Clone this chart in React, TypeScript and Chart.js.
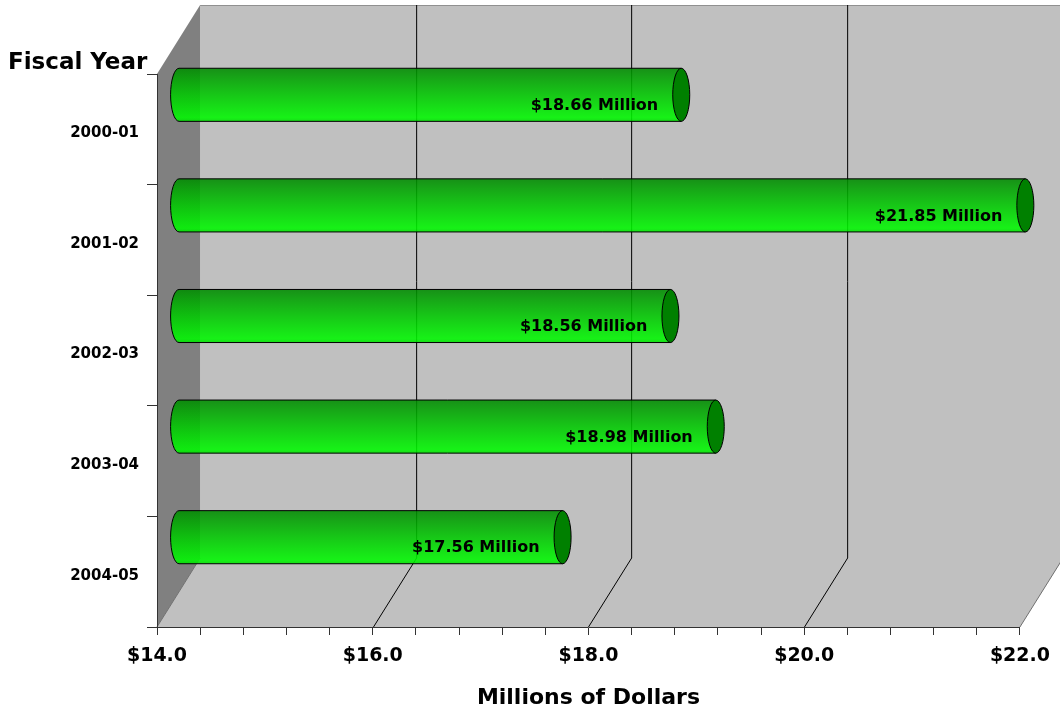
import React, { useEffect, useRef } from 'react';
import { Chart, registerables } from 'chart.js';

Chart.register(...registerables);

// ---- data ----
const fiscalYears = ['2000-01', '2001-02', '2002-03', '2003-04', '2004-05'];
const spendingMillions = [18.66, 21.85, 18.56, 18.98, 17.56];
const xTickValues = [14, 14.4, 14.8, 15.2, 15.6, 16, 16.4, 16.8, 17.2, 17.6, 18, 18.4, 18.8, 19.2, 19.6, 20, 20.4, 20.8, 21.2, 21.6, 22];
const xMajorTicks = [14, 16, 18, 20, 22];
const X_MIN = 14;
const X_MAX = 22;

// ---- style ----
const FONT = "'DejaVu Sans', 'Liberation Sans', sans-serif";
const DEPTH_UNITS = 0.4; // horizontal depth expressed in axis units
const DEPTH_DY = 69; // vertical depth in px
const CAP_RX = 8.5;

const threeDPlugin = {
  id: 'threeD',
  beforeDraw(chart: any) {
    const { ctx, chartArea: a, scales } = chart;
    const x = scales.x;
    const dx = x.getPixelForValue(X_MIN + DEPTH_UNITS) - x.getPixelForValue(X_MIN);
    const dy = DEPTH_DY;
    ctx.save();
    // back wall
    ctx.fillStyle = '#c0c0c0';
    ctx.fillRect(a.left + dx, a.top - dy, a.right - a.left, a.bottom - a.top);
    ctx.strokeStyle = '#909090';
    ctx.lineWidth = 1;
    ctx.beginPath();
    ctx.moveTo(a.left + dx, a.top - dy + 0.5);
    ctx.lineTo(a.right + dx, a.top - dy + 0.5);
    ctx.stroke();
    // floor
    ctx.fillStyle = '#c0c0c0';
    ctx.beginPath();
    ctx.moveTo(a.left, a.bottom);
    ctx.lineTo(a.right, a.bottom);
    ctx.lineTo(a.right + dx, a.bottom - dy);
    ctx.lineTo(a.left + dx, a.bottom - dy);
    ctx.closePath();
    ctx.fill();
    // left wall
    ctx.fillStyle = '#808080';
    ctx.beginPath();
    ctx.moveTo(a.left, a.top);
    ctx.lineTo(a.left + dx, a.top - dy);
    ctx.lineTo(a.left + dx, a.bottom - dy);
    ctx.lineTo(a.left, a.bottom);
    ctx.closePath();
    ctx.fill();
    // floor edges
    ctx.strokeStyle = '#707070';
    ctx.beginPath();
    ctx.moveTo(a.left, a.bottom);
    ctx.lineTo(a.left + dx, a.bottom - dy);
    ctx.moveTo(a.right, a.bottom);
    ctx.lineTo(a.right + dx, a.bottom - dy);
    ctx.stroke();
    // grid lines on back wall and floor
    ctx.strokeStyle = '#000000';
    ctx.beginPath();
    xMajorTicks.forEach((v) => {
      if (v === X_MIN || v === X_MAX) return;
      const px = Math.round(x.getPixelForValue(v)) + 0.5;
      ctx.moveTo(px + dx, a.top - dy);
      ctx.lineTo(px + dx, a.bottom - dy);
      ctx.moveTo(px, a.bottom);
      ctx.lineTo(px + dx, a.bottom - dy);
    });
    ctx.stroke();
    ctx.restore();
  },
  afterDatasetsDraw(chart: any) {
    const { ctx, scales, chartArea } = chart;
    const x = scales.x;
    const dx = x.getPixelForValue(X_MIN + DEPTH_UNITS) - x.getPixelForValue(X_MIN);
    const dy = DEPTH_DY;
    const meta = chart.getDatasetMeta(0);
    ctx.save();
    meta.data.forEach((bar: any, i: number) => {
      const p = bar.getProps(['x', 'y', 'base', 'height'], true);
      const xl = Math.max(p.base, chartArea.left) + dx / 2;
      const xr = p.x + dx / 2;
      const cy = p.y - dy / 2;
      const ry = p.height / 2;
      const top = cy - ry;
      const bottom = cy + ry;
      const g = ctx.createLinearGradient(0, top, 0, bottom);
      g.addColorStop(0, '#008a00');
      g.addColorStop(0.2, '#00a400');
      g.addColorStop(0.5, '#00c800');
      g.addColorStop(0.8, '#00ea00');
      g.addColorStop(0.93, '#00f800');
      g.addColorStop(1, '#00e000');
      ctx.beginPath();
      ctx.moveTo(xr, top);
      ctx.lineTo(xl, top);
      ctx.ellipse(xl, cy, CAP_RX, ry, 0, -Math.PI / 2, Math.PI / 2, true);
      ctx.lineTo(xr, bottom);
      ctx.closePath();
      ctx.globalAlpha = 0.88;
      ctx.fillStyle = g;
      ctx.fill();
      ctx.globalAlpha = 1;
      ctx.strokeStyle = '#000000';
      ctx.lineWidth = 1;
      ctx.stroke();
      // end cap
      ctx.beginPath();
      ctx.ellipse(xr, cy, CAP_RX, ry, 0, 0, Math.PI * 2);
      ctx.fillStyle = '#008000';
      ctx.fill();
      ctx.stroke();
      // label
      ctx.font = `bold 16px ${FONT}`;
      ctx.fillStyle = '#000000';
      ctx.textAlign = 'right';
      ctx.textBaseline = 'middle';
      ctx.fillText(`$${spendingMillions[i].toFixed(2)} Million`, xr - 23, cy + 11);
    });
    ctx.restore();
  },
  afterDraw(chart: any) {
    const { ctx } = chart;
    ctx.save();
    ctx.font = `bold 23px ${FONT}`;
    ctx.fillStyle = '#000000';
    ctx.textAlign = 'left';
    ctx.textBaseline = 'alphabetic';
    ctx.fillText('Fiscal Year', 8, 69);
    ctx.restore();
  },
};

export default function App() {
  const canvasRef = useRef<HTMLCanvasElement | null>(null);

  useEffect(() => {
    if (!canvasRef.current) return;
    const chart = new Chart(canvasRef.current, {
      type: 'bar',
      data: {
        labels: fiscalYears,
        datasets: [
          {
            label: 'Millions of Dollars',
            data: spendingMillions,
            base: X_MIN,
            backgroundColor: 'rgba(0,0,0,0)',
            borderWidth: 0,
            barPercentage: 0.48,
            categoryPercentage: 1,
          },
        ],
      },
      options: {
        indexAxis: 'y',
        responsive: true,
        maintainAspectRatio: false,
        animation: false,
        layout: { padding: { top: 74, right: 37, left: 0, bottom: 0 } },
        plugins: {
          legend: { display: false },
          tooltip: { enabled: false },
        },
        scales: {
          x: {
            type: 'linear',
            min: X_MIN,
            max: X_MAX,
            afterBuildTicks: (s: any) => {
              s.ticks = xTickValues.map((value) => ({ value }));
            },
            afterFit: (s: any) => {
              s.height = 84;
            },
            ticks: {
              autoSkip: false,
              maxRotation: 0,
              padding: 10,
              color: '#000000',
              font: { family: FONT, size: 19, weight: 'bold' },
              callback: (v: any) => (xMajorTicks.includes(Number(v)) ? '$' + Number(v).toFixed(1) : ''),
            },
            grid: { drawOnChartArea: false, tickLength: 8, color: '#333333' },
            border: { color: '#333333' },
            title: {
              display: true,
              text: 'Millions of Dollars',
              color: '#000000',
              font: { family: FONT, size: 22, weight: 'bold' },
              padding: { top: 0, bottom: 0 },
            },
          },
          y: {
            type: 'category',
            afterFit: (s: any) => {
              s.width = 157;
            },
            ticks: {
              padding: 8,
              labelOffset: 4,
              color: '#000000',
              font: { family: FONT, size: 15, weight: 'bold' },
            },
            grid: { drawOnChartArea: false, offset: true, tickLength: 10, color: '#333333' },
            border: { color: '#333333' },
          },
        },
      },
      plugins: [threeDPlugin],
    } as any);
    return () => chart.destroy();
  }, []);

  return (
    <div style={{ position: 'absolute', left: 0, top: 0, width: 1060, height: 711 }}>
      <canvas ref={canvasRef} />
    </div>
  );
}
